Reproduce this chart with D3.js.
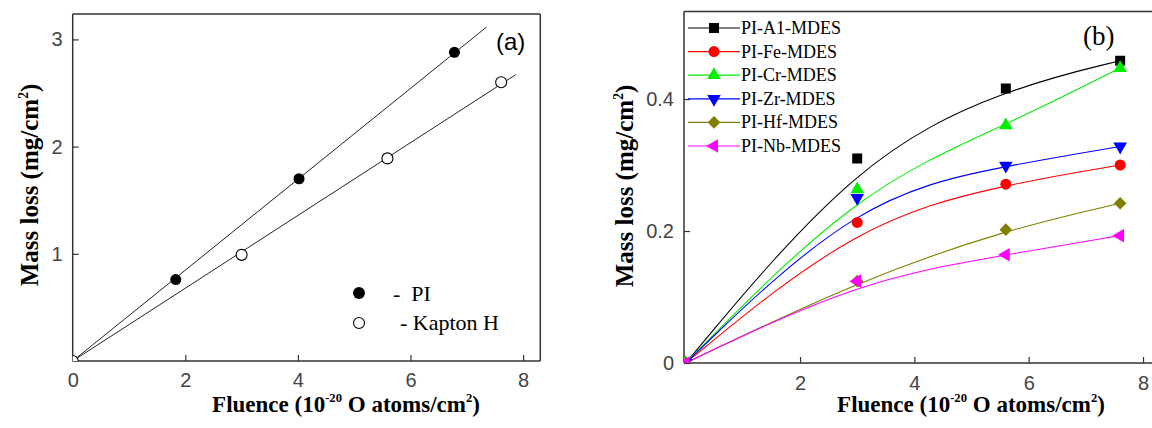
<!DOCTYPE html>
<html>
<head>
<meta charset="utf-8">
<script src="https://cdn.jsdelivr.net/npm/d3@7"></script>
<style>
  body { margin: 0; background: #fff; }
  svg { display: block; }
</style>
</head>
<body>
<svg id="chart"></svg>
<script>
// ---- panel (a) data ----
const piFluence = [0, 1.83, 4.02, 6.78];
const piMass = [0, 0.76, 1.70, 2.88];
const kaptonFluence = [0, 3.0, 5.59, 7.61];
const kaptonMass = [0, 0.99, 1.89, 2.60];
const fitEnd = [7.35, 7.87]; // where the fitted lines stop (PI, Kapton H)
const ticksAx = [0, 2, 4, 6, 8];
const ticksAy = [1, 2, 3];

// ---- panel (b) data ----
const fluenceB = [0, 3.0, 5.6, 7.6];
const namesB = ["PI-A1-MDES", "PI-Fe-MDES", "PI-Cr-MDES", "PI-Zr-MDES", "PI-Hf-MDES", "PI-Nb-MDES"];
const massAl = [0, 0.310, 0.416, 0.458];
const massFe = [0, 0.213, 0.271, 0.300];
const massCr = [0, 0.263, 0.360, 0.447];
const massZr = [0, 0.250, 0.299, 0.328];
const massHf = [0, 0.124, 0.202, 0.242];
const massNb = [0, 0.124, 0.164, 0.193];
const colorsB = ["#000000", "#ff0000", "#00ee00", "#0000ff", "#808000", "#ff00ff"];
const ticksBx = [2, 4, 6, 8];
const ticksBy = [0, 0.2, 0.4];

const W = 1152, H = 428;
const svg = d3.select("#chart").attr("width", W).attr("height", H);
svg.append("rect").attr("width", W).attr("height", H).attr("fill", "#fff");

const serif = "'Liberation Serif', 'Times New Roman', serif";
const sans = "'Liberation Sans', Arial, sans-serif";

// axis title with superscripts, parts = [[text, isSup], ...]
function richText(sel, parts, size) {
    let raised = false;
    parts.forEach(([t, sup]) => {
        const ts = sel.append("tspan").text(t);
        if (sup && !raised) { ts.attr("dy", -size * 0.42).attr("font-size", size * 0.55); raised = true; }
        else if (sup) { ts.attr("font-size", size * 0.55); }
        else if (raised) { ts.attr("dy", size * 0.42); raised = false; }
    });
}

function frame(g, x, y, sides) {
    const [x0, x1] = x.range(), [y0, y1] = y.range();
    const lines = {
        top: [x0, y1, x1, y1], bottom: [x0, y0, x1, y0],
        left: [x0, y0, x0, y1], right: [x1, y0, x1, y1]
    };
    sides.forEach(s => {
        const l = lines[s];
        g.append("line").attr("x1", l[0]).attr("y1", l[1]).attr("x2", l[2]).attr("y2", l[3])
            .attr("stroke", "#333").attr("stroke-width", 1.5);
    });
}

// _________________________
// Panel (a)
// _________________________
const xA = d3.scaleLinear().domain([0, 8.305]).range([72.7, 540.3]);
const yA = d3.scaleLinear().domain([0, 3.237]).range([361, 14]);
const gA = svg.append("g");

gA.append("clipPath").attr("id", "clipA").append("rect")
    .attr("x", xA.range()[0]).attr("y", yA.range()[1])
    .attr("width", xA.range()[1] - xA.range()[0]).attr("height", yA.range()[0] - yA.range()[1]);

const axA = gA.append("g").attr("transform", `translate(0,${yA.range()[0]})`)
    .call(d3.axisBottom(xA).tickValues(ticksAx).tickSize(-6).tickPadding(12).tickFormat(d3.format("d")));
const ayA = gA.append("g").attr("transform", `translate(${xA.range()[0]},0)`)
    .call(d3.axisLeft(yA).tickValues(ticksAy).tickSize(-6).tickPadding(10).tickFormat(d3.format("d")));
[axA, ayA].forEach(a => {
    a.select(".domain").remove();
    a.selectAll("line").attr("stroke", "#333").attr("stroke-width", 1.2);
    a.selectAll("text").attr("font-family", sans).attr("font-size", 20).attr("fill", "#444");
});
axA.selectAll("text").attr("dy", "0.71em").attr("y", 12);
frame(gA, xA, yA, ["top", "bottom", "left", "right"]);

// fitted lines through the origin
const fitSlope = (xs, ys) => d3.sum(xs, (v, i) => v * ys[i]) / d3.sum(xs, v => v * v);
const fitsA = [
    {slope: fitSlope(piFluence, piMass), end: fitEnd[0]},
    {slope: fitSlope(kaptonFluence, kaptonMass), end: fitEnd[1]}
];
const lineA = d3.line().x(d => xA(d[0])).y(d => yA(d[1]));
fitsA.forEach(f => {
    gA.append("path").attr("d", lineA([[0, 0], [f.end, f.slope * f.end]]))
        .attr("fill", "none").attr("stroke", "#222").attr("stroke-width", 1);
});

const ptsA = gA.append("g").attr("clip-path", "url(#clipA)");
ptsA.selectAll(".pi").data(piFluence).enter().append("circle")
    .attr("cx", d => xA(d)).attr("cy", (d, i) => yA(piMass[i])).attr("r", 5.5).attr("fill", "#000");
ptsA.selectAll(".kap").data(kaptonFluence).enter().append("circle")
    .attr("cx", d => xA(d)).attr("cy", (d, i) => yA(kaptonMass[i])).attr("r", 5.5)
    .attr("fill", "#fff").attr("stroke", "#000").attr("stroke-width", 1.1);

// legend (a)
gA.append("circle").attr("cx", 359).attr("cy", 293).attr("r", 6).attr("fill", "#000");
gA.append("circle").attr("cx", 359).attr("cy", 323).attr("r", 5.5).attr("fill", "#fff")
    .attr("stroke", "#000").attr("stroke-width", 1.1);
gA.append("text").attr("x", 393).attr("y", 301).attr("font-family", serif).attr("font-size", 22)
    .attr("xml:space", "preserve").text("-  PI");
gA.append("text").attr("x", 400).attr("y", 330).attr("font-family", serif).attr("font-size", 22)
    .text("- Kapton H");

gA.append("text").attr("x", 496).attr("y", 50).attr("font-family", sans).attr("font-size", 24)
    .text("(a)");

const xtA = gA.append("text").attr("x", 346).attr("y", 412).attr("text-anchor", "middle")
    .attr("font-family", serif).attr("font-size", 23).attr("font-weight", "bold");
richText(xtA, [["Fluence (10", false], ["-20", true], [" O atoms/cm", false], ["2", true], [")", false]], 23);

const ytA = gA.append("text").attr("transform", "translate(38,185) rotate(-90)").attr("text-anchor", "middle")
    .attr("font-family", serif).attr("font-size", 25).attr("font-weight", "bold");
richText(ytA, [["Mass loss (mg/cm", false], ["2", true], [")", false]], 25);

// _________________________
// Panel (b)
// _________________________
const xB = d3.scaleLinear().domain([-0.03, 8.22]).range([684, 1155.6]);
const yB = d3.scaleLinear().domain([0, 0.5326]).range([363, 11.5]);
const gB = svg.append("g");

gB.append("clipPath").attr("id", "clipB").append("rect")
    .attr("x", xB.range()[0]).attr("y", yB.range()[1])
    .attr("width", xB.range()[1] - xB.range()[0]).attr("height", yB.range()[0] - yB.range()[1]);

const axB = gB.append("g").attr("transform", `translate(0,${yB.range()[0]})`)
    .call(d3.axisBottom(xB).tickValues(ticksBx).tickSize(-6).tickPadding(12).tickFormat(d3.format("d")));
const ayB = gB.append("g").attr("transform", `translate(${xB.range()[0]},0)`)
    .call(d3.axisLeft(yB).tickValues(ticksBy).tickSize(-6).tickPadding(10).tickFormat(d => d === 0 ? "0" : d3.format(".1f")(d)));
[axB, ayB].forEach(a => {
    a.select(".domain").remove();
    a.selectAll("line").attr("stroke", "#333").attr("stroke-width", 1.2);
    a.selectAll("text").attr("font-family", sans).attr("font-size", 20).attr("fill", "#444");
});
axB.selectAll("text").attr("dy", "0.71em").attr("y", 13);
frame(gB, xB, yB, ["top", "bottom", "left", "right"]);

const seriesB = [massAl, massFe, massCr, massZr, massHf, massNb];
const symbolsB = [
    {type: d3.symbolSquare, size: 100, rot: 0},
    {type: d3.symbolCircle, size: 95, rot: 0},
    {type: d3.symbolTriangle, size: 80, rot: 0},
    {type: d3.symbolTriangle, size: 80, rot: 180},
    {type: d3.symbolSquare, size: 80, rot: 45},
    {type: d3.symbolTriangle, size: 80, rot: -90}
];
const curveB = d3.line().x(d => xB(d[0])).y(d => yB(d[1])).curve(d3.curveBasis);
const plotB = gB.append("g").attr("clip-path", "url(#clipB)");

seriesB.forEach((vals, k) => {
    const pts = fluenceB.map((f, i) => [f, vals[i]]);
    plotB.append("path").attr("d", curveB(pts)).attr("fill", "none")
        .attr("stroke", colorsB[k]).attr("stroke-width", 1.1);
});
seriesB.forEach((vals, k) => {
    const s = symbolsB[k];
    plotB.selectAll(".m" + k).data(fluenceB).enter().append("path")
        .attr("d", d3.symbol().type(s.type).size(s.size))
        .attr("transform", (d, i) => `translate(${xB(d)},${yB(vals[i])}) rotate(${s.rot})`)
        .attr("fill", colorsB[k]);
});

// legend (b)
const legB = gB.append("g");
namesB.forEach((name, k) => {
    const y = 28 + k * 23.6;
    const s = symbolsB[k];
    legB.append("line").attr("x1", 688).attr("x2", 740).attr("y1", y).attr("y2", y)
        .attr("stroke", colorsB[k]).attr("stroke-width", 1.2);
    legB.append("path").attr("d", d3.symbol().type(s.type).size(s.size))
        .attr("transform", `translate(714,${y}) rotate(${s.rot})`).attr("fill", colorsB[k]);
    legB.append("text").attr("x", 741).attr("y", y + 6).attr("font-family", serif).attr("font-size", 18)
        .text(name);
});

gB.append("text").attr("x", 1083).attr("y", 45).attr("font-family", serif).attr("font-size", 27)
    .text("(b)");

const xtB = gB.append("text").attr("x", 971).attr("y", 412).attr("text-anchor", "middle")
    .attr("font-family", serif).attr("font-size", 23).attr("font-weight", "bold");
richText(xtB, [["Fluence (10", false], ["-20", true], [" O atoms/cm", false], ["2", true], [")", false]], 23);

const ytB = gB.append("text").attr("transform", "translate(633,186) rotate(-90)").attr("text-anchor", "middle")
    .attr("font-family", serif).attr("font-size", 25).attr("font-weight", "bold");
richText(ytB, [["Mass loss (mg/cm", false], ["2", true], [")", false]], 25);
</script>
</body>
</html>
